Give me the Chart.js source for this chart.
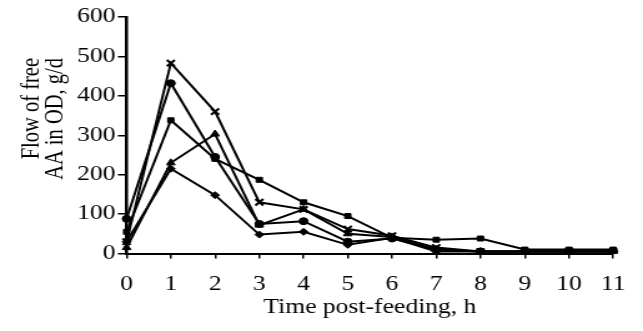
<!DOCTYPE html>
<html><head>
<meta charset="utf-8">
<script src="https://cdn.jsdelivr.net/npm/chart.js@4/dist/chart.umd.min.js"></script>
<style>
html,body{margin:0;padding:0;background:#fff;overflow:hidden}
#wrap{width:515px;height:331px;transform:scaleX(1.2485);transform-origin:0 0}
</style>
</head><body>
<div id="wrap"><canvas id="c" width="515" height="331"></canvas></div>
<script>
const hours = ['0','1','2','3','4','5','6','7','8','9','10','11'];
const seriesDiamond  = [30, 215, 148, 48, 55, 22, 40, 5, 5, 5, 5, 5];
const seriesSquare   = [55, 338, 240, 187, 130, 95, 40, 35, 38, 10, 10, 10];
const seriesTriangle = [15, 230, 303, 72, 112, 50, 42, 10, 5, 5, 5, 5];
const seriesCross    = [30, 483, 360, 130, 112, 62, 45, 15, 5, 5, 5, 5];
const seriesCircle   = [88, 432, 245, 75, 82, 30, 38, 10, 5, 5, 5, 5];
const yMin = 0, yMax = 600, yStep = 100;
const xTitle = 'Time post-feeding, h';
const yTitleLines = ['Flow of free', 'AA in OD, g/d'];

const FONT = '"Liberation Serif", "Times New Roman", serif';

function ds(data, style, radius, bw) {
  return {
    data: data,
    borderColor: '#000',
    backgroundColor: '#000',
    borderWidth: 2,
    pointStyle: style,
    pointRadius: radius,
    pointBorderWidth: bw,
    pointBackgroundColor: '#000',
    pointBorderColor: '#000',
    tension: 0,
    fill: false
  };
}

const yTitlePlugin = {
  id: 'yTitle',
  afterDraw(chart) {
    const ctx = chart.ctx;
    ctx.save();
    ctx.fillStyle = '#000';
    ctx.font = '20.5px ' + FONT;
    ctx.textAlign = 'right';
    ctx.textBaseline = 'middle';
    const xs = [25.6, 44.5];
    yTitleLines.forEach((t, i) => {
      ctx.save();
      ctx.translate(xs[i], 58);
      ctx.rotate(-Math.PI / 2);
      ctx.fillText(t, 0, 0);
      ctx.restore();
    });
    ctx.restore();
  }
};

new Chart(document.getElementById('c'), {
  type: 'line',
  data: {
    labels: hours,
    datasets: [
      ds(seriesDiamond, 'rectRot', 3.5, 1),
      ds(seriesSquare, 'rect', 3.5, 1),
      ds(seriesTriangle, 'triangle', 4, 1),
      ds(seriesCross, 'crossRot', 4.5, 2),
      ds(seriesCircle, 'circle', 3.5, 1)
    ]
  },
  options: {
    responsive: false,
    animation: false,
    devicePixelRatio: 1,
    layout: { padding: { left: 0, top: 17, right: 14, bottom: 0 } },
    plugins: { legend: { display: false }, tooltip: { enabled: false } },
    scales: {
      x: {
        offset: false,
        afterFit(s) { s.height = 77.5; },
        grid: { drawOnChartArea: false, drawTicks: true, tickLength: 5, color: '#000', lineWidth: 1.5 },
        border: { display: true, color: '#000', width: 2 },
        ticks: { color: '#000', font: { family: FONT, size: 20.5 }, padding: 14, maxRotation: 0, autoSkip: false },
        title: { display: true, text: xTitle, color: '#000', font: { family: FONT, size: 20.5 }, padding: { top: 0, bottom: 11 } }
      },
      y: {
        min: yMin, max: yMax,
        afterFit(s) { s.width = 101.4; },
        grid: { drawOnChartArea: false, drawTicks: true, tickLength: 7, color: '#000', lineWidth: 1.5 },
        border: { display: true, color: '#000', width: 2.5 },
        ticks: { stepSize: yStep, color: '#000', font: { family: FONT, size: 20.5 }, padding: 2 }
      }
    }
  },
  plugins: [yTitlePlugin]
});
</script>
</body></html>
